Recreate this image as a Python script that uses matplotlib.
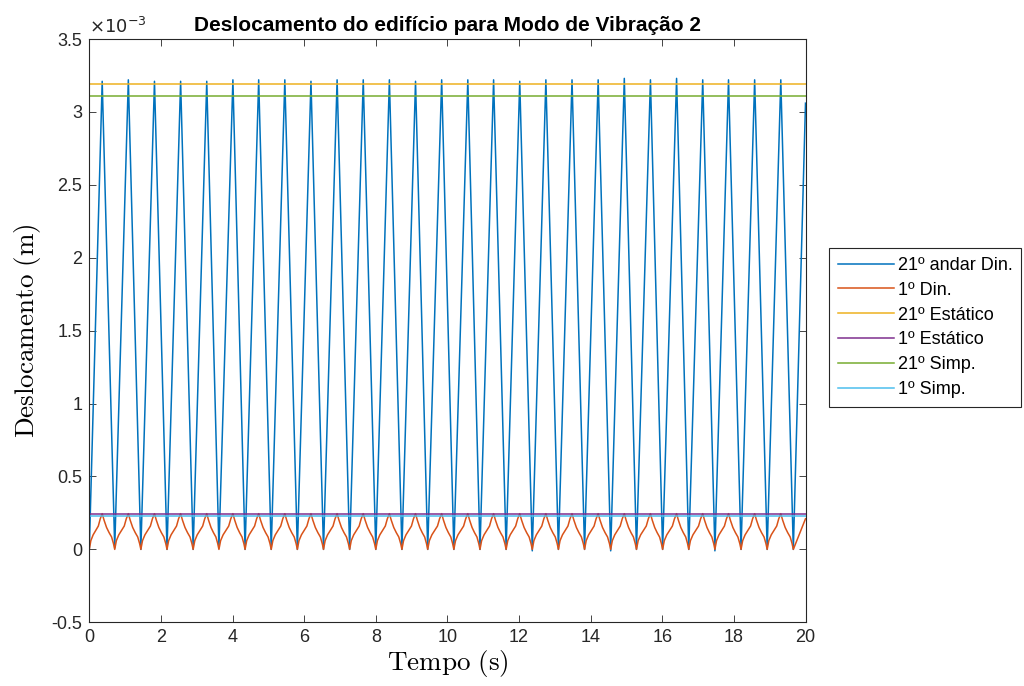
import matplotlib
matplotlib.use("Agg")
import matplotlib.pyplot as plt
import numpy as np

plt.rcParams['font.family'] = ['Liberation Sans', 'DejaVu Sans']
plt.rcParams['mathtext.fontset'] = 'cm'

# ---- data (values in units of 1e-3 m) ----
peak_times = [0.36, 1.09, 1.82, 2.55, 3.28, 4.01, 4.73, 5.46, 6.19, 6.92, 7.65, 8.38,
              9.11, 9.84, 10.57, 11.29, 12.02, 12.75, 13.48, 14.21, 14.94, 15.67,
              16.40, 17.13, 17.85, 18.58, 19.31]
peak_vals = [3.21, 3.22, 3.21, 3.21, 3.21, 3.22, 3.22, 3.22, 3.21, 3.22, 3.22, 3.22,
             3.21, 3.22, 3.22, 3.22, 3.21, 3.22, 3.22, 3.22, 3.23, 3.22,
             3.23, 3.22, 3.22, 3.22, 3.22]
trough_times = [0.00, 0.71, 1.44, 2.17, 2.90, 3.62, 4.35, 5.08, 5.81, 6.54, 7.27, 8.00,
                8.73, 9.45, 10.18, 10.91, 11.64, 12.37, 13.10, 13.83, 14.56, 15.28,
                16.01, 16.74, 17.47, 18.20, 18.93, 19.66]
trough_vals = [0.00, 0.01, 0.00, 0.00, 0.00, 0.01, 0.00, 0.00, 0.00, 0.00, 0.00, 0.00,
               0.00, 0.00, 0.00, 0.00, 0.00, -0.01, 0.00, 0.00, -0.01, 0.00,
               0.00, 0.00, -0.01, 0.00, 0.00, 0.00]
end_time = 20.0
end_val_21 = 3.06
end_val_1 = 0.21

# one cycle of the 1st-floor dynamic response
rise_frac = [0.0, 0.12, 0.30, 0.50, 0.70, 0.85, 1.0]
rise_vals = [0.0, 0.06, 0.10, 0.13, 0.16, 0.21, 0.245]
fall_frac = [0.15, 0.35, 0.55, 0.75, 0.90]
fall_vals = [0.20, 0.15, 0.115, 0.085, 0.04]

static_21 = 3.192
static_1 = 0.241
simp_21 = 3.112
simp_1 = 0.229

t_range = [0.0, 20.0]

# ---- assemble series ----
t21, y21 = [], []
for i in range(len(peak_times)):
    t21 += [trough_times[i], peak_times[i]]
    y21 += [trough_vals[i], peak_vals[i]]
t21 += [trough_times[-1], end_time]
y21 += [trough_vals[-1], end_val_21]

t1, y1 = [], []
for i in range(len(peak_times)):
    a, p = trough_times[i], peak_times[i]
    b = trough_times[i + 1]
    for f, v in zip(rise_frac, rise_vals):
        t1.append(a + f * (p - a)); y1.append(v)
    for f, v in zip(fall_frac, fall_vals):
        t1.append(p + f * (b - p)); y1.append(v)
t1 += [trough_times[-1], end_time]
y1 += [0.0, end_val_1]

# ---- figure ----
fig = plt.figure(figsize=(10.24, 6.86), dpi=100)
W, H = 1024, 686
ax = fig.add_axes([89.3 / W, 1 - 622.3 / H, (805.5 - 89.3) / W, (622.3 - 39) / H])

c_blue = (0, 0.447, 0.741)
c_orange = (0.85, 0.325, 0.098)
c_yellow = (0.929, 0.694, 0.125)
c_purple = (0.494, 0.184, 0.556)
c_green = (0.466, 0.674, 0.188)
c_lblue = (0.301, 0.745, 0.933)

lw = 1.1
ax.plot(t21, y21, color=c_blue, lw=lw, label='21º andar Din.')
ax.plot(t1, y1, color=c_orange, lw=lw, label='1º Din.')
ax.plot(t_range, [static_21] * 2, color=c_yellow, lw=lw, label='21º Estático')
ax.plot(t_range, [static_1] * 2, color=c_purple, lw=lw, label='1º Estático')
ax.plot(t_range, [simp_21] * 2, color=c_green, lw=lw, label='21º Simp.')
ax.plot(t_range, [simp_1] * 2, color=c_lblue, lw=lw, label='1º Simp.')

ax.set_xlim(0, 20)
ax.set_ylim(-0.5, 3.5)
ax.set_xticks(np.arange(0, 21, 2))
yt = np.arange(-0.5, 3.51, 0.5)
ax.set_yticks(yt)
ax.set_yticklabels(['%g' % v for v in yt])
ax.tick_params(direction='in', top=True, right=True, labelsize=13, length=5,
               width=0.6, colors='#262626', labelcolor='#262626', pad=5)
for s in ax.spines.values():
    s.set_color('#262626')
    s.set_linewidth(0.8)

ax.text(0.0, 1.004, r'$\times10^{-3}$', transform=ax.transAxes, fontsize=13,
        color='#262626', ha='left', va='bottom', math_fontfamily='dejavusans')

ax.set_title('Deslocamento do edifício para Modo de Vibração 2', fontsize=15,
             fontweight='bold', pad=6)
ax.set_xlabel(r'$\mathrm{Tempo\ (s)}$', fontsize=19.5, labelpad=1)
ax.set_ylabel(r'$\mathrm{Deslocamento\ (m)}$', fontsize=19.5, labelpad=6)

leg = fig.legend(loc='upper left', bbox_to_anchor=(829 / W, 1 - 248 / H),
                 fontsize=13, handlelength=3.1, handletextpad=0.2, labelspacing=0.43,
                 borderpad=0.5, fancybox=False, framealpha=1, edgecolor='#262626',
                 borderaxespad=0)
leg.get_frame().set_linewidth(0.8)

fig.savefig('out.png', dpi=100)
